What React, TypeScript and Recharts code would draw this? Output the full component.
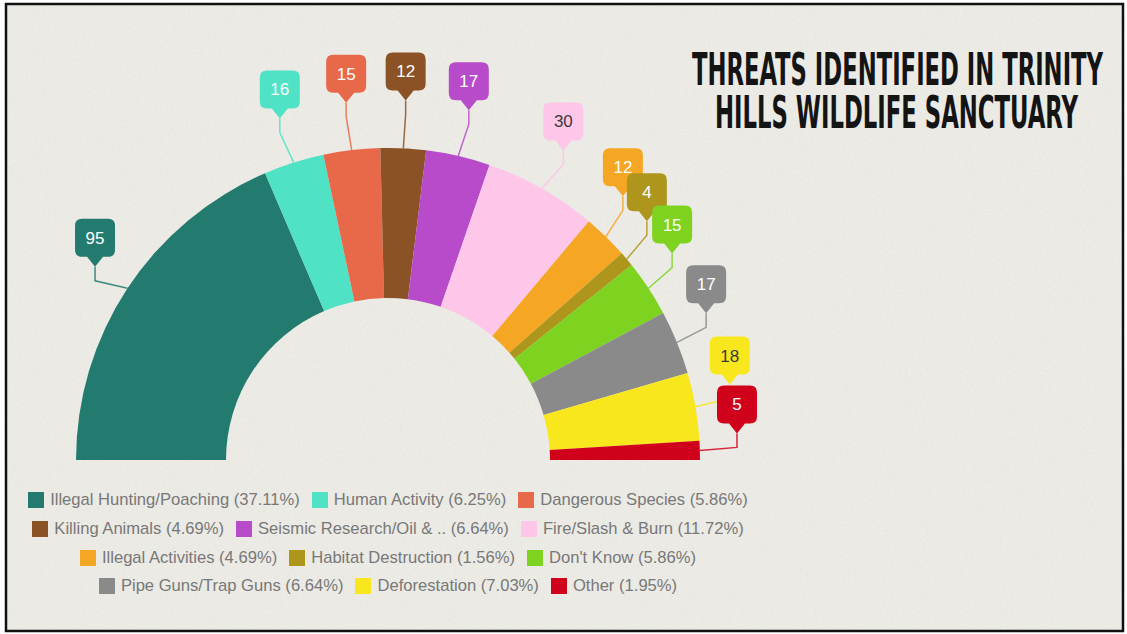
import { useLayoutEffect, useRef, useState } from "react";
import { Cell, Legend, Pie, PieChart } from "recharts";

const categories = [
  "Illegal Hunting/Poaching",
  "Human Activity",
  "Dangerous Species",
  "Killing Animals",
  "Seismic Research/Oil & ..",
  "Fire/Slash & Burn",
  "Illegal Activities",
  "Habitat Destruction",
  "Don't Know",
  "Pipe Guns/Trap Guns",
  "Deforestation",
  "Other",
];

const values = [95, 16, 15, 12, 17, 30, 12, 4, 15, 17, 18, 5];

const colors = [
  "#237b70",
  "#50e2c4",
  "#e8694a",
  "#8b5226",
  "#b84bc9",
  "#fec6e8",
  "#f5a623",
  "#ae961d",
  "#7ed321",
  "#8a8a8a",
  "#f8e71c",
  "#d0021b",
];

const titleLines = ["THREATS IDENTIFIED IN TRINITY", "HILLS WILDLIFE SANCTUARY"];

const total = values.reduce((a, b) => a + b, 0);
const data = categories.map((name, i) => ({ name, value: values[i] }));

const W = 1127;
const H = 634;
const CX = 388;
const CY = 460;
const FONT = "'Liberation Sans', Arial, sans-serif";

// light fills (pink, yellow) get dark label text
function isLight(hex: string) {
  const n = parseInt(hex.slice(1), 16);
  const r = (n >> 16) & 255;
  const g = (n >> 8) & 255;
  const b = n & 255;
  return 0.299 * r + 0.587 * g + 0.114 * b > 200;
}

const RAD = Math.PI / 180;

function Balloon(props: any) {
  const { cx, cy, midAngle, outerRadius, index, value } = props;
  const color = colors[index];
  // crowded labels on the right get pushed a little up the arc
  const angle = midAngle < 50 ? midAngle + 2.6 : midAngle;
  const s = Math.sin(angle * RAD);
  const tipR = outerRadius + 38 + 10 * s * s * s * s;
  const ox = cx + outerRadius * Math.cos(midAngle * RAD);
  const oy = cy - outerRadius * Math.sin(midAngle * RAD);
  const tx = cx + tipR * Math.cos(angle * RAD);
  const ty = cy - tipR * Math.sin(angle * RAD);
  const ey = ty + 14;

  const w = 20;
  const r = 7;
  const bottom = ty - 10;
  const top = bottom - 38;
  const d = [
    `M${tx - w + r},${top}`,
    `H${tx + w - r}`,
    `Q${tx + w},${top} ${tx + w},${top + r}`,
    `V${bottom - r}`,
    `Q${tx + w},${bottom} ${tx + w - r},${bottom}`,
    `H${tx + 8}`,
    `L${tx},${ty}`,
    `L${tx - 8},${bottom}`,
    `H${tx - w + r}`,
    `Q${tx - w},${bottom} ${tx - w},${bottom - r}`,
    `V${top + r}`,
    `Q${tx - w},${top} ${tx - w + r},${top}`,
    "Z",
  ].join(" ");

  return (
    <g>
      <polyline
        points={`${ox},${oy} ${tx},${ey} ${tx},${ty}`}
        fill="none"
        stroke={color}
        strokeOpacity={0.85}
        strokeWidth={1.5}
      />
      <path d={d} fill={color} />
      <text
        x={tx}
        y={top + 25}
        textAnchor="middle"
        fontFamily={FONT}
        fontSize={17}
        fill={isLight(color) ? "#3a3a3a" : "#ffffff"}
      >
        {value}
      </text>
    </g>
  );
}

function LegendRows() {
  const rows: number[][] = [];
  for (let i = 0; i < categories.length; i += 3) {
    rows.push([i, i + 1, i + 2].filter((k) => k < categories.length));
  }
  return (
    <div style={{ width: 776 }}>
      {rows.map((row, ri) => (
        <div
          key={ri}
          style={{
            display: "flex",
            justifyContent: "center",
            alignItems: "center",
            height: 28.7,
            gap: 12,
          }}
        >
          {row.map((k) => (
            <div key={k} style={{ display: "flex", alignItems: "center" }}>
              <span
                style={{
                  width: 16,
                  height: 16,
                  background: colors[k],
                  marginRight: 6,
                  display: "inline-block",
                }}
              />
              <span
                style={{
                  fontFamily: FONT,
                  fontSize: 16.6,
                  color: "#787878",
                  whiteSpace: "nowrap",
                }}
              >
                {categories[k]} ({((values[k] / total) * 100).toFixed(2)}%)
              </span>
            </div>
          ))}
        </div>
      ))}
    </div>
  );
}

// condensed display title: squeeze a narrow bold face to the wanted width
function SqueezedLine({ text, x, y, width }: { text: string; x: number; y: number; width: number }) {
  const ref = useRef<SVGTextElement>(null);
  const [sx, setSx] = useState(0.62);
  useLayoutEffect(() => {
    if (ref.current) {
      const len = ref.current.getComputedTextLength();
      if (len > 0) setSx(width / len);
    }
  }, [text, width]);
  return (
    <text ref={ref} transform={`translate(${x},${y}) scale(${sx},1)`}>
      {text}
    </text>
  );
}

export default function App() {
  return (
    <div
      style={{
        position: "absolute",
        left: 0,
        top: 0,
        width: W,
        height: H,
        background: "#ffffff",
      }}
    >
      <svg
        width={W}
        height={H}
        style={{ position: "absolute", left: 0, top: 0 }}
      >
        <defs>
          <filter id="paper" x="0" y="0" width="100%" height="100%">
            <feTurbulence
              type="fractalNoise"
              baseFrequency="0.35 0.6"
              numOctaves={3}
              seed={7}
            />
            <feColorMatrix
              type="matrix"
              values="0 0 0 0 0.55  0 0 0 0 0.54  0 0 0 0 0.5  0 0 0 -0.9 0.55"
            />
          </filter>
        </defs>
        <rect x={6} y={4} width={1117} height={627} fill="#ecebe6" />
        <rect
          x={6}
          y={4}
          width={1117}
          height={627}
          filter="url(#paper)"
          opacity={0.25}
        />
        <rect
          x={6}
          y={4}
          width={1117}
          height={627}
          fill="none"
          stroke="#111"
          strokeWidth={2.5}
        />
        <g
          fontFamily="'Liberation Sans Narrow', 'DejaVu Sans Condensed', Arial, sans-serif"
          fontWeight={700}
          fontSize={44}
          fill="#141414"
        >
          <SqueezedLine text={titleLines[0]} x={692} y={85} width={411} />
          <SqueezedLine text={titleLines[1]} x={715} y={128} width={363} />
        </g>
      </svg>
      <div style={{ position: "absolute", left: 0, top: 0 }}>
        <PieChart
          width={W}
          height={H}
          margin={{ top: 0, right: 0, bottom: 0, left: 0 }}
        >
          <Pie
            data={data}
            dataKey="value"
            nameKey="name"
            cx={CX}
            cy={CY}
            innerRadius={162}
            outerRadius={312}
            startAngle={180}
            endAngle={0}
            stroke="none"
            label={Balloon}
            labelLine={false}
            isAnimationActive={false}
          >
            {data.map((d, i) => (
              <Cell key={d.name} fill={colors[i]} />
            ))}
          </Pie>
          <Legend
            content={() => <LegendRows />}
            wrapperStyle={{ left: 0, top: 486, width: 776 }}
          />
        </PieChart>
      </div>
    </div>
  );
}
